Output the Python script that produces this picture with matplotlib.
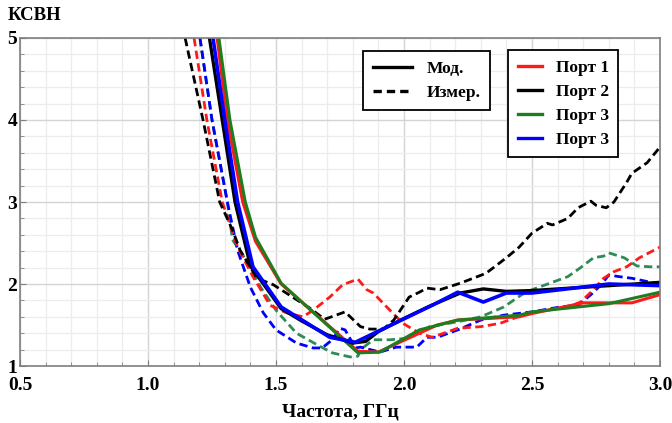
import matplotlib.pyplot as plt
from matplotlib.lines import Line2D
from matplotlib.ticker import MultipleLocator

plt.rcParams['font.family'] = ['Liberation Serif', 'DejaVu Serif']
plt.rcParams['font.weight'] = 'bold'

# Моделирование (сплошные линии)
f_mod_p1 = [1.27, 1.31, 1.37, 1.42, 1.52, 1.82, 1.90, 2.13, 2.21, 2.45, 2.50, 2.70, 2.89, 3.00]
v_mod_p1 = [5.0, 4.0, 3.0, 2.52, 2.00, 1.18, 1.17, 1.50, 1.56, 1.60, 1.64, 1.77, 1.77, 1.87]

f_mod_p2 = [1.24, 1.29, 1.34, 1.40, 1.52, 1.60, 1.70, 1.80, 1.85, 1.90, 2.00, 2.10, 2.22, 2.31, 2.40, 2.50, 2.80, 3.00]
v_mod_p2 = [5.0, 4.0, 3.0, 2.22, 1.70, 1.55, 1.38, 1.28, 1.30, 1.42, 1.58, 1.73, 1.89, 1.94, 1.91, 1.92, 1.98, 2.02]

f_mod_p3 = [1.277, 1.32, 1.38, 1.42, 1.52, 1.82, 1.906, 2.06, 2.21, 2.45, 2.50, 2.80, 3.00]
v_mod_p3 = [5.0, 4.0, 3.0, 2.57, 2.01, 1.16, 1.17, 1.44, 1.56, 1.62, 1.66, 1.76, 1.90]

f_mod_p4 = [1.254, 1.30, 1.35, 1.41, 1.52, 1.71, 1.81, 1.87, 1.91, 2.01, 2.11, 2.21, 2.31, 2.40, 2.50, 2.80, 3.00]
v_mod_p4 = [5.0, 4.0, 3.0, 2.21, 1.72, 1.35, 1.29, 1.38, 1.44, 1.59, 1.74, 1.90, 1.78, 1.89, 1.89, 2.00, 1.98]

# Измерения (штриховые линии)
f_meas_p1 = [1.18, 1.23, 1.29, 1.35, 1.41, 1.477, 1.54, 1.605, 1.645, 1.71, 1.76, 1.82, 1.855, 1.88,
             1.945, 1.996, 2.06, 2.11, 2.21, 2.30, 2.375, 2.41, 2.49, 2.64, 2.69, 2.74, 2.78, 2.82,
             2.87, 2.92, 3.00]
v_meas_p1 = [5.0, 4.0, 3.0, 2.45, 2.09, 1.74, 1.65, 1.60, 1.68, 1.84, 1.99, 2.06, 1.93, 1.89,
             1.68, 1.52, 1.40, 1.35, 1.46, 1.48, 1.52, 1.56, 1.65, 1.72, 1.78, 1.93, 2.07, 2.15,
             2.21, 2.32, 2.45]

f_meas_p2 = [1.145, 1.215, 1.28, 1.33, 1.36, 1.426, 1.49, 1.54, 1.63, 1.69, 1.77, 1.83, 1.867, 1.92,
             1.96, 2.02, 2.06, 2.09, 2.14, 2.22, 2.32, 2.40, 2.45, 2.50, 2.56, 2.58, 2.64, 2.68,
             2.73, 2.75, 2.79, 2.82, 2.87, 2.89, 2.95, 3.00]
v_meas_p2 = [5.0, 4.0, 3.0, 2.66, 2.41, 2.07, 1.99, 1.89, 1.71, 1.57, 1.66, 1.48, 1.45, 1.45,
             1.56, 1.84, 1.90, 1.95, 1.93, 2.01, 2.13, 2.32, 2.45, 2.62, 2.74, 2.72, 2.80, 2.93,
             3.01, 2.96, 2.93, 3.00, 3.24, 3.35, 3.48, 3.67]

f_meas_p3 = [1.203, 1.25, 1.31, 1.33, 1.39, 1.44, 1.50, 1.58, 1.66, 1.72, 1.79, 1.82, 1.83, 1.88,
             1.945, 2.02, 2.06, 2.10, 2.21, 2.30, 2.39, 2.46, 2.50, 2.57, 2.64, 2.69, 2.74, 2.78,
             2.80, 2.86, 2.91, 2.96, 3.00]
v_meas_p3 = [5.0, 4.0, 3.0, 2.54, 2.26, 1.96, 1.68, 1.40, 1.26, 1.16, 1.11, 1.12, 1.20, 1.32,
             1.32, 1.34, 1.41, 1.48, 1.54, 1.60, 1.72, 1.87, 1.93, 2.01, 2.09, 2.20, 2.32, 2.34,
             2.38, 2.32, 2.22, 2.21, 2.21]

f_meas_p4 = [1.203, 1.25, 1.31, 1.35, 1.40, 1.45, 1.50, 1.58, 1.645, 1.68, 1.72, 1.75, 1.77, 1.81,
             1.83, 1.906, 1.97, 2.05, 2.09, 2.13, 2.21, 2.30, 2.39, 2.50, 2.61, 2.68, 2.73, 2.77,
             2.80, 2.84, 2.89, 2.95, 3.00]
v_meas_p4 = [5.0, 4.0, 3.0, 2.41, 1.96, 1.65, 1.44, 1.28, 1.22, 1.22, 1.32, 1.46, 1.44, 1.22,
             1.23, 1.17, 1.23, 1.23, 1.35, 1.35, 1.44, 1.56, 1.62, 1.66, 1.72, 1.74, 1.87, 1.99,
             2.11, 2.09, 2.07, 2.03, 1.99]

RED = '#ff1a1a'
BLACK = '#000000'
GREEN = '#1e7d1e'
GREEN_D = '#2e8b57'
BLUE = '#0000ff'
DASH = (0, (3, 1.6))

fig = plt.figure(figsize=(6.72, 4.23), dpi=100)
ax = fig.add_axes([20 / 672, 1 - 366 / 423, 640 / 672, 328 / 423])

# измеренные кривые
ax.plot(f_meas_p3, v_meas_p3, color=GREEN_D, lw=2.0, ls=DASH)
ax.plot(f_meas_p4, v_meas_p4, color=BLUE, lw=2.0, ls=DASH)
ax.plot(f_meas_p1, v_meas_p1, color=RED, lw=2.0, ls=DASH)
ax.plot(f_meas_p2, v_meas_p2, color=BLACK, lw=2.0, ls=DASH)

# модельные кривые
ax.plot(f_mod_p1, v_mod_p1, color=RED, lw=2.2)
ax.plot(f_mod_p3, v_mod_p3, color=GREEN, lw=2.2)
ax.plot(f_mod_p2, v_mod_p2, color=BLACK, lw=2.4)
ax.plot(f_mod_p4, v_mod_p4, color=BLUE, lw=2.6)

ax.set_xlim(0.5, 3.0)
ax.set_ylim(1, 5)
ax.xaxis.set_minor_locator(MultipleLocator(0.1))
ax.yaxis.set_minor_locator(MultipleLocator(0.2))
ax.grid(which='major', color='#d4d4d4', lw=1.0)
ax.grid(which='minor', color='#ececec', lw=0.9)
ax.set_axisbelow(True)
for sp in ax.spines.values():
    sp.set_color('#7f7f7f')
    sp.set_linewidth(1.2)
ax.tick_params(which='both', direction='in', color='#7f7f7f', labelsize=14)
ax.tick_params(which='major', length=4)
ax.tick_params(which='minor', length=3)
ax.tick_params(axis='x', pad=8)
ax.tick_params(axis='y', pad=2)

ax.set_xticks([0.5, 1.0, 1.5, 2.0, 2.5, 3.0])
ax.set_xticklabels(['0.5', '1.0', '1.5', '2.0', '2.5', '3.0'], fontweight='bold')
ax.set_yticks([1, 2, 3, 4, 5])
ax.set_yticklabels(['1', '2', '3', '4', '5'], fontweight='bold')
ax.set_xlabel('Частота, ГГц', fontsize=14, fontweight='bold', labelpad=7)
fig.text(8 / 672, 1 - 7 / 423, 'КСВН', fontsize=13.5, fontweight='bold', va='top', ha='left')

style_handles = [Line2D([], [], color=BLACK, lw=2.4),
                 Line2D([], [], color=BLACK, lw=2.4, ls=(0, (2.5, 1.5)))]
leg1 = fig.legend(style_handles, ['Мод.', 'Измер.'], loc='upper left',
                  bbox_to_anchor=(363 / 672, 1 - 51 / 423), borderaxespad=0,
                  fancybox=False, edgecolor='black', framealpha=1,
                  prop={'family': 'Liberation Serif', 'weight': 'bold', 'size': 12.5},
                  handlelength=2.3, handletextpad=0.8, labelspacing=0.45,
                  borderpad=0.55)
leg1.get_frame().set_linewidth(1.3)

port_handles = [Line2D([], [], color=c, lw=2.4) for c in (RED, BLACK, GREEN, BLUE)]
leg2 = fig.legend(port_handles, ['Порт 1', 'Порт 2', 'Порт 3', 'Порт 3'], loc='upper left',
                  bbox_to_anchor=(508 / 672, 1 - 50 / 423), borderaxespad=0,
                  fancybox=False, edgecolor='black', framealpha=1,
                  prop={'family': 'Liberation Serif', 'weight': 'bold', 'size': 12.5},
                  handlelength=1.4, handletextpad=0.8, labelspacing=0.45,
                  borderpad=0.55)
leg2.get_frame().set_linewidth(1.3)

fig.savefig('out.png', dpi=100)
